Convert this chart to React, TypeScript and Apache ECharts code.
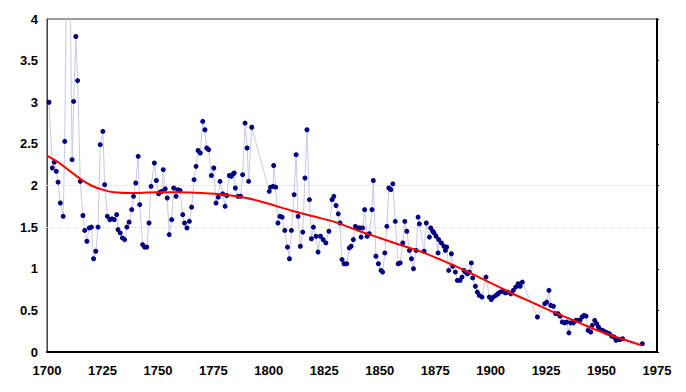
import React, { useEffect, useRef } from "react";
import * as echarts from "echarts";

const years: number[] = [
  1700.9, 1702.4, 1703.3, 1704.2, 1705.0, 1706.0, 1707.3, 1708.0, 1709.6, 1711.3,
  1712.0, 1713.0, 1713.8, 1715.0, 1716.2, 1717.0, 1718.0, 1719.0, 1720.0, 1721.0,
  1722.0, 1723.0, 1724.0, 1725.2, 1726.0, 1727.2, 1728.3, 1729.3, 1730.3, 1731.4,
  1732.0, 1733.0, 1734.0, 1735.0, 1736.0, 1737.0, 1738.2, 1739.0, 1740.0, 1741.1,
  1741.8, 1743.1, 1744.0, 1745.0, 1746.0, 1746.9, 1748.4, 1749.3, 1750.3, 1751.0,
  1751.8, 1752.4, 1753.3, 1754.2, 1755.1, 1756.2, 1757.1, 1758.2, 1758.9, 1760.0,
  1761.2, 1762.0, 1763.1, 1764.2, 1765.2, 1766.3, 1767.2, 1768.1, 1769.1, 1770.2,
  1771.2, 1772.0, 1772.9, 1774.1, 1775.2, 1776.2, 1777.2, 1778.0, 1779.2, 1780.3,
  1781.0, 1782.2, 1783.1, 1783.9, 1784.4, 1784.9, 1786.1, 1787.3, 1788.2, 1789.3,
  1790.2, 1790.9, 1792.3, 1800.2, 1800.8, 1801.9, 1802.2, 1803.1, 1804.1, 1805.0,
  1806.0, 1807.2, 1808.4, 1809.3, 1810.2, 1811.4, 1812.3, 1813.2, 1814.2, 1815.3,
  1816.3, 1817.2, 1818.3, 1819.2, 1820.1, 1821.3, 1822.2, 1823.3, 1824.5, 1825.7,
  1827.1, 1828.5, 1829.3, 1830.3, 1831.3, 1832.1, 1833.0, 1833.9, 1835.1, 1836.3,
  1837.1, 1838.1, 1839.0, 1840.2, 1841.1, 1841.6, 1842.3, 1843.2, 1844.3, 1845.3,
  1846.5, 1847.1, 1848.3, 1849.4, 1850.6, 1851.3, 1852.3, 1853.2, 1854.1, 1855.0,
  1855.9, 1857.0, 1858.3, 1859.2, 1860.4, 1861.3, 1862.2, 1863.4, 1864.3, 1865.2,
  1866.4, 1867.3, 1867.9, 1870.0, 1871.0, 1872.4, 1873.0, 1873.9, 1874.5, 1875.4,
  1876.3, 1876.6, 1877.8, 1878.9, 1879.6, 1880.2, 1881.1, 1882.3, 1882.9, 1884.1,
  1885.0, 1886.2, 1887.1, 1888.0, 1888.6, 1889.5, 1890.4, 1891.3, 1891.9, 1893.1,
  1894.0, 1894.9, 1896.1, 1897.9, 1899.4, 1900.3, 1901.2, 1902.4, 1903.3, 1904.2,
  1905.5, 1906.6, 1907.8, 1909.1, 1910.2, 1911.3, 1912.4, 1913.3, 1914.3, 1921.1,
  1924.4, 1925.3, 1926.3, 1927.1, 1928.3, 1929.3, 1930.4, 1931.3, 1932.3, 1933.4,
  1934.3, 1935.3, 1936.1, 1937.3, 1938.4, 1939.4, 1940.3, 1941.2, 1942.1, 1943.0,
  1943.9, 1945.1, 1945.8, 1946.9, 1947.8, 1948.6, 1949.3, 1950.5, 1951.6, 1952.6,
  1953.5, 1954.6, 1955.6, 1956.5, 1957.1, 1958.3, 1959.5, 1968.4,
];

const values: number[] = [
  3.00, 2.21, 2.28, 2.17, 2.04, 1.79, 1.63, 2.53, 6.5, 2.31,
  3.01, 3.79, 3.26, 2.05, 1.64, 1.46, 1.33, 1.49, 1.50, 1.12,
  1.21, 1.50, 2.49, 2.65, 2.01, 1.63, 1.59, 1.60, 1.59, 1.65,
  1.47, 1.43, 1.37, 1.35, 1.50, 1.56, 1.71, 1.87, 2.03, 2.35,
  1.77, 1.29, 1.26, 1.26, 1.55, 1.99, 2.27, 2.06, 1.90, 1.92,
  1.93, 2.19, 1.96, 1.85, 1.41, 1.59, 1.97, 1.87, 1.95, 1.94,
  1.65, 1.55, 1.49, 1.57, 1.74, 2.07, 2.23, 2.42, 2.39, 2.77,
  2.67, 2.45, 2.43, 2.12, 2.21, 1.79, 1.86, 2.05, 1.90, 1.75,
  1.88, 2.12, 2.11, 2.14, 2.15, 1.97, 1.87, 1.87, 2.13, 2.75,
  2.45, 2.05, 2.70, 1.93, 1.98, 1.99, 2.24, 1.98, 1.55, 1.63,
  1.62, 1.46, 1.26, 1.12, 1.46, 1.89, 2.37, 1.63, 1.27, 1.44,
  2.09, 2.67, 1.83, 1.36, 1.50, 1.39, 1.20, 1.39, 1.35, 1.31,
  1.45, 1.83, 1.87, 1.76, 1.66, 1.55, 1.11, 1.06, 1.06, 1.25,
  1.27, 1.35, 1.51, 1.49, 1.49, 1.38, 1.49, 1.71, 1.39, 1.42,
  1.71, 2.06, 1.15, 1.06, 0.98, 0.96, 1.19, 1.51, 1.97, 1.95,
  2.02, 1.57, 1.06, 1.07, 1.31, 1.57, 1.45, 1.22, 1.12, 1.00,
  1.22, 1.62, 1.54, 1.21, 1.55, 1.38, 1.49, 1.45, 1.43, 1.39,
  1.19, 1.35, 1.31, 1.27, 1.22, 1.26, 0.98, 1.18, 1.03, 0.96,
  0.86, 0.86, 0.90, 0.98, 0.96, 0.94, 0.96, 1.07, 0.89, 0.79,
  0.72, 0.68, 0.66, 0.90, 0.66, 0.63, 0.66, 0.68, 0.70, 0.72,
  0.73, 0.71, 0.72, 0.70, 0.74, 0.78, 0.82, 0.79, 0.84, 0.42,
  0.58, 0.60, 0.74, 0.56, 0.55, 0.46, 0.46, 0.43, 0.36, 0.35,
  0.36, 0.23, 0.35, 0.35, 0.38, 0.38, 0.38, 0.42, 0.44, 0.43,
  0.26, 0.24, 0.32, 0.38, 0.34, 0.30, 0.27, 0.26, 0.24, 0.23,
  0.22, 0.19, 0.18, 0.14, 0.15, 0.15, 0.16, 0.10,
];

const trendYears: number[] = [
  1700, 1705, 1710, 1715, 1720, 1725, 1730, 1740, 1750, 1760, 1770, 1780, 1790,
  1800, 1810, 1820, 1830, 1840, 1850, 1860, 1870, 1880, 1890, 1900, 1910, 1920,
  1930, 1940, 1950, 1960, 1968,
];
const trendValues: number[] = [
  2.36, 2.28, 2.18, 2.08, 2.00, 1.95, 1.92, 1.91, 1.92, 1.92, 1.91, 1.89, 1.85,
  1.78, 1.70, 1.63, 1.56, 1.46, 1.37, 1.28, 1.19, 1.08, 0.96, 0.83, 0.70, 0.58,
  0.46, 0.35, 0.24, 0.15, 0.08,
];

const gridValues: number[] = [1.5, 2];

const labelFont = {
  color: "#000",
  fontFamily: "'Liberation Sans', Arial, sans-serif",
  fontWeight: "bold" as const,
  fontSize: 13,
};

export default function App() {
  const ref = useRef<HTMLDivElement>(null);
  useEffect(() => {
    if (!ref.current) return;
    const chart = echarts.init(ref.current, undefined, { renderer: "svg" });
    const points = years.map((y, i) => [y, values[i]]);
    const trend = trendYears.map((y, i) => [y, trendValues[i]]);
    chart.setOption({
      animation: false,
      backgroundColor: "#fff",
      grid: {
        left: 47,
        right: 29,
        top: 19,
        bottom: 40,
        show: true,
        borderColor: "#333",
        borderWidth: 1,
        backgroundColor: "transparent",
      },
      xAxis: {
        type: "value",
        min: 1700,
        max: 1975,
        interval: 25,
        axisLine: { show: true, onZero: false, lineStyle: { color: "#000", width: 2 } },
        axisTick: { show: false },
        splitLine: { show: false },
        axisLabel: { ...labelFont, margin: 12, formatter: (v: number) => String(v) },
      },
      yAxis: [
        {
          type: "value",
          min: 0,
          max: 4,
          interval: 0.5,
          axisLine: { show: true, lineStyle: { color: "#444", width: 1 } },
          axisTick: { show: false },
          splitLine: { show: false },
          axisLabel: { ...labelFont, margin: 9 },
        },
        {
          type: "value",
          min: 0,
          max: 4,
          interval: 0.5,
          position: "right",
          axisLine: { show: true, lineStyle: { color: "#000", width: 2 } },
          axisTick: { show: true, length: 2, lineStyle: { color: "#000", width: 1 } },
          splitLine: { show: false },
          axisLabel: { show: false },
        },
      ],
      series: [
        {
          type: "line",
          data: points,
          symbol: "circle",
          symbolSize: 5,
          showSymbol: true,
          clip: true,
          itemStyle: { color: "#000080" },
          lineStyle: { color: "#c8c8ec", width: 1 },
          z: 3,
          markLine: {
            silent: true,
            symbol: "none",
            label: { show: false },
            lineStyle: { color: "#dcdcdc", type: "dotted", width: 1 },
            data: gridValues.map((v) => ({ yAxis: v })),
            z: 1,
          },
        },
        {
          type: "line",
          data: trend,
          smooth: 0.25,
          symbol: "none",
          clip: true,
          lineStyle: { color: "#ff0000", width: 2 },
          z: 4,
        },
      ],
    });
    return () => chart.dispose();
  }, []);
  return (
    <div
      ref={ref}
      style={{ position: "fixed", left: 0, top: 0, width: 686, height: 392 }}
    />
  );
}
